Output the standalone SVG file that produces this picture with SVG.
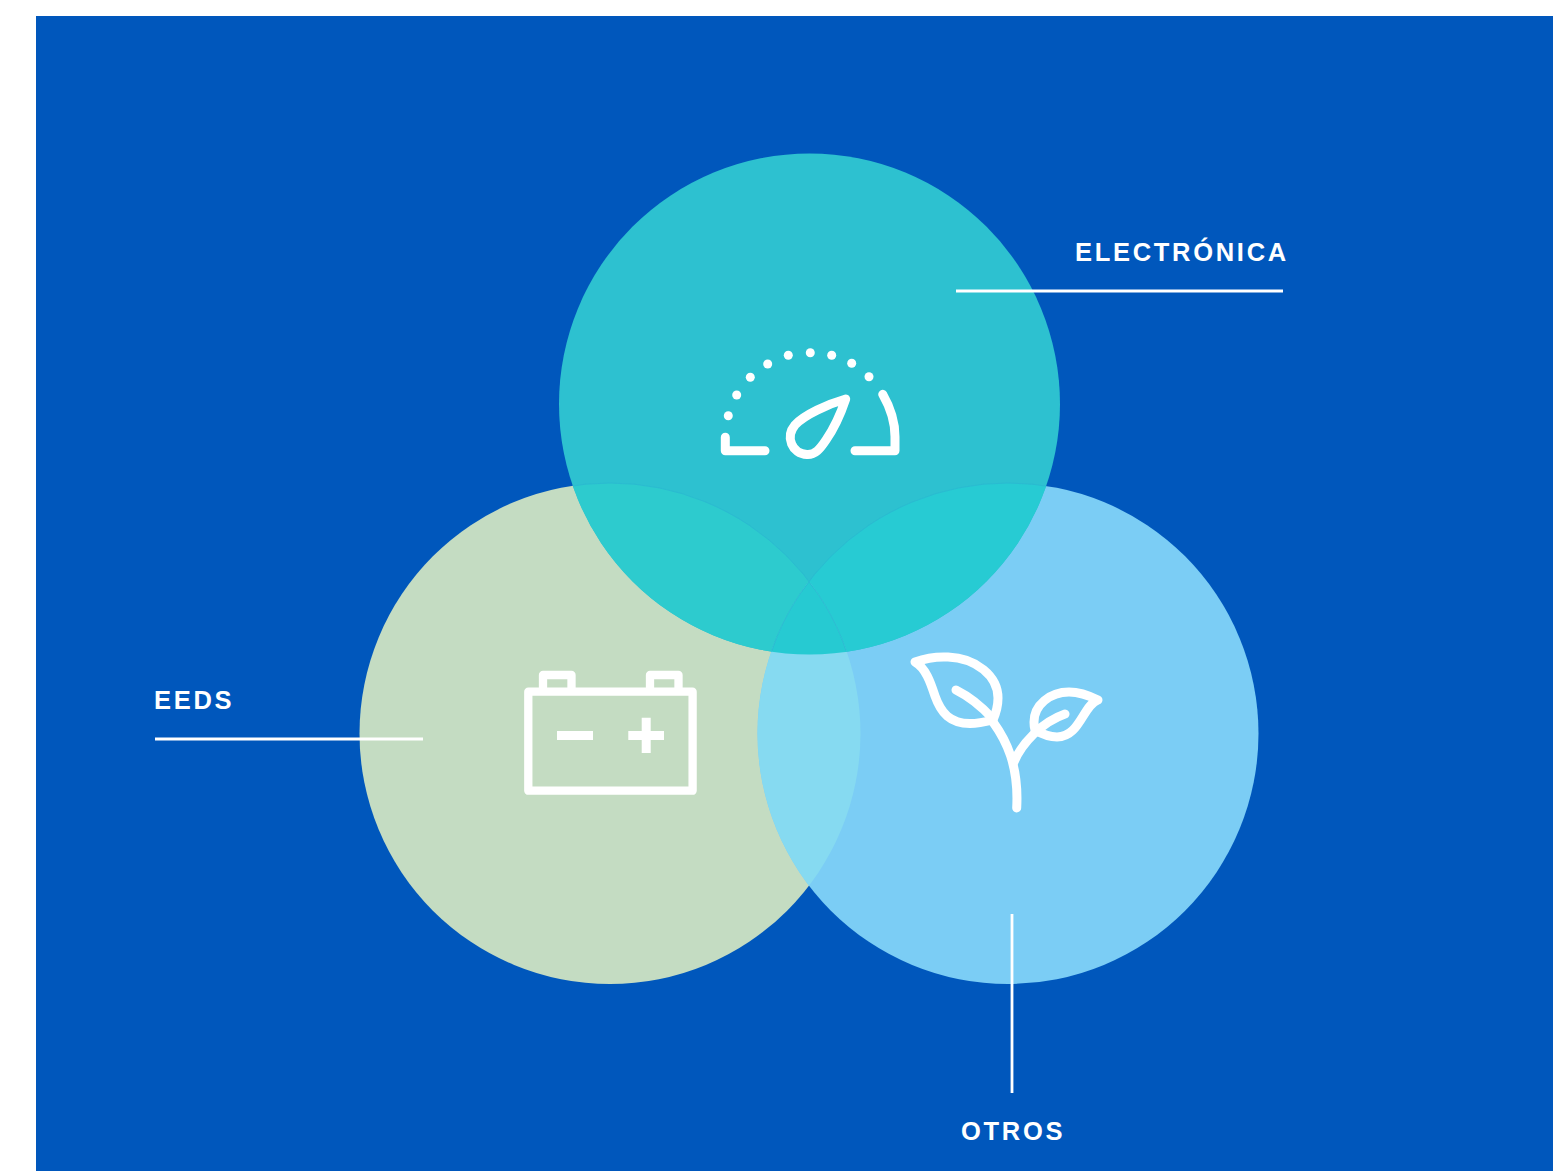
<svg xmlns="http://www.w3.org/2000/svg" width="1553" height="1171" viewBox="0 0 1553 1171">
<style>
.ico{fill:none;stroke:#fff;stroke-width:9;stroke-linecap:round;stroke-linejoin:round}
.bat{fill:none;stroke:#fff;stroke-width:8.300;stroke-linejoin:round}
.lead{stroke:#fff;stroke-width:2.800;fill:none}
.lbl{font-family:"Liberation Sans",Arial,sans-serif;font-weight:700;font-size:25.500px;letter-spacing:2.700px;fill:#fff}
.dot{fill:#fff}
.edge{fill:none;stroke:#2bb8d0;stroke-width:.8}
</style>
<defs>
<circle id="cT" cx="809.500" cy="404" r="250.500"/>
<circle id="cL" cx="610" cy="733.500" r="250.500"/>
<circle id="cR" cx="1008" cy="733.500" r="250.500"/>
<clipPath id="clipT"><use href="#cT"/></clipPath>
<clipPath id="clipR"><use href="#cR"/></clipPath>
</defs>
<rect width="1553" height="1171" fill="#fff"/>
<rect x="36" y="16" width="1517" height="1155" fill="#0057bc"/>
<g id="circles">
<use href="#cL" fill="#c4dcc2"/>
<use href="#cR" fill="#7bcdf5"/>
<use href="#cT" fill="#2dc1d0"/>
<g clip-path="url(#clipT)"><use href="#cL" fill="#2dcbce"/><use href="#cR" fill="#27cbd3"/></g>
<g clip-path="url(#clipR)"><use href="#cL" fill="#86daf1"/></g>
<g clip-path="url(#clipT)"><g clip-path="url(#clipR)"><use href="#cL" fill="#26cad2"/></g></g>
<g clip-path="url(#clipT)"><use href="#cL" class="edge"/><use href="#cR" class="edge"/></g>
</g>
<g id="electronica">
<g class="dot">
<circle cx="728.300" cy="415.700" r="4.500"/><circle cx="736.700" cy="395" r="4.500"/><circle cx="750.300" cy="377.300" r="4.500"/><circle cx="767.700" cy="364" r="4.500"/><circle cx="788.300" cy="355.300" r="4.500"/><circle cx="810.300" cy="352.700" r="4.500"/><circle cx="831.700" cy="355.300" r="4.500"/><circle cx="851.700" cy="363.300" r="4.500"/><circle cx="869" cy="376.700" r="4.500"/>
</g>
<path class="ico" d="M725.300 437.300V450.800H765"/>
<path class="ico" d="M855 450.800H895V436.700C895 420 890 407 882.700 394.300"/>
<path class="ico" d="M845.700 399C828 404 804 415 795 425C785 437 792 454 807 454.500C815 455 820 449 826 440C835 427 842 410 845.700 399Z"/>
<text class="lbl" x="1075" y="260.500">ELECTRÓNICA</text>
</g>
<g id="eeds">
<rect class="bat" x="528.300" y="691.700" width="164.300" height="99"/>
<path class="bat" d="M543 688V675H571.500V688"/>
<path class="bat" d="M650 688V675H678.500V688"/>
<path class="dot" d="M557 731H593V740H557ZM628.300 731H641.700V717.700H650.700V731H664V740H650.700V753H641.700V740H628.300Z"/>
<text class="lbl" x="154" y="709">EEDS</text>
</g>
<g id="otros">
<path class="ico" d="M915 662C926 658 938 656.500 948 657C976 658 998 676 998 698C998 706 996 713 993 720C985 722 977 723.500 970 723.500C950 723.500 941 713 935 696C931 684 926 668 915 662Z"/>
<path class="ico" d="M956 690C970 697 982 707 992 718"/>
<path class="ico" d="M993 722C1006 740 1019 765 1016.700 808"/>
<path class="ico" d="M1014 762C1022 743 1042 722 1065 714"/>
<path class="ico" d="M1098 700C1088 695 1079 692 1069 692C1050 692 1034 705 1034 722C1034 725 1034 727 1035 730C1042 734 1050 737 1057 737C1080 737 1083 705 1098 700Z"/>
<text class="lbl" x="961" y="1139.500">OTROS</text>
</g>
<g id="connectors">
<line class="lead" x1="956" y1="291" x2="1283" y2="291"/>
<line class="lead" x1="155" y1="739" x2="423" y2="739"/>
<line class="lead" x1="1012" y1="914" x2="1012" y2="1093"/>
</g>
</svg>
